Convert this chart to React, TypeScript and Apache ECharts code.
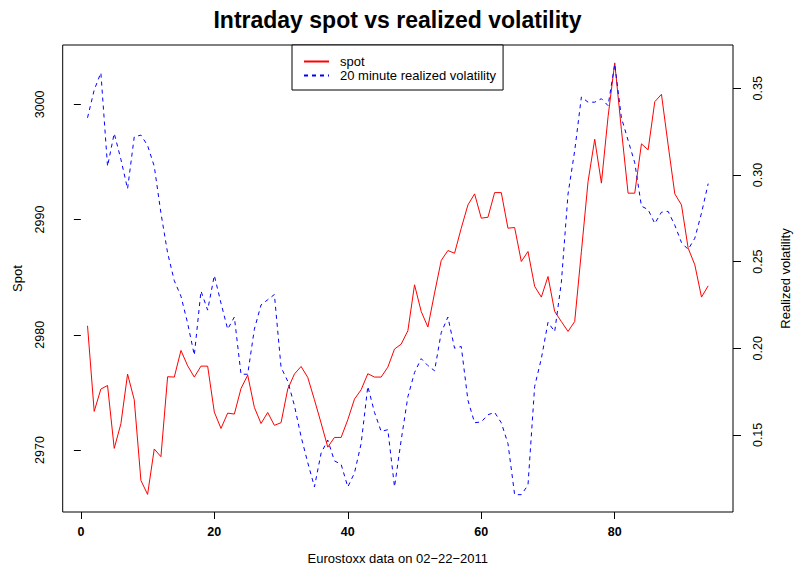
import { useEffect, useRef } from 'react';
import * as echarts from 'echarts';

const spot: number[] = [
  2980.78, 2973.35, 2975.29, 2975.6, 2970.14, 2972.28, 2976.59, 2974.36, 2967.36, 2966.15,
  2970.09, 2969.42, 2976.36, 2976.33, 2978.64, 2977.31, 2976.33, 2977.28, 2977.28, 2973.29,
  2971.87, 2973.2, 2973.12, 2975.34, 2976.5, 2973.7, 2972.3, 2973.26, 2972.14, 2972.37,
  2975.29, 2976.59, 2977.25, 2976.3, 2974.36, 2972.34, 2970.25, 2971.09, 2971.09, 2972.63,
  2974.42, 2975.23, 2976.62, 2976.33, 2976.33, 2977.19, 2978.76, 2979.19, 2980.35, 2984.34,
  2982.02, 2980.67, 2983.62, 2986.45, 2987.31, 2987.08, 2989.25, 2991.27, 2992.23, 2990.12,
  2990.2, 2992.34, 2992.34, 2989.25, 2989.31, 2986.36, 2987.23, 2984.2, 2983.27, 2985.06,
  2982.02, 2981.15, 2980.29, 2981.15, 2987.2, 2993.3, 2996.97, 2993.16, 2998.93, 3003.6,
  2997.8, 2992.29, 2992.29, 2996.57, 2996.05, 3000.23, 3000.87, 2996.48, 2992.23, 2991.27,
  2987.52, 2986.07, 2983.27, 2984.25,
];

const vol: number[] = [
  0.333, 0.349, 0.359, 0.305, 0.324, 0.309, 0.292, 0.322, 0.323, 0.317,
  0.305, 0.278, 0.255, 0.239, 0.23, 0.2145, 0.196, 0.233, 0.222, 0.242,
  0.226, 0.211, 0.218, 0.185, 0.185, 0.211, 0.225, 0.228, 0.231, 0.189,
  0.181, 0.167, 0.149, 0.134, 0.12, 0.1395, 0.147, 0.135, 0.133, 0.12,
  0.128, 0.145, 0.178, 0.163, 0.152, 0.153, 0.12, 0.147, 0.172, 0.186,
  0.194, 0.19, 0.187, 0.209, 0.218, 0.2, 0.201, 0.17, 0.157, 0.1575,
  0.1616, 0.163, 0.157, 0.145, 0.1155, 0.1155, 0.121, 0.178, 0.194, 0.215,
  0.2096, 0.238, 0.289, 0.314, 0.345, 0.342, 0.342, 0.344, 0.34, 0.364,
  0.333, 0.32, 0.307, 0.282, 0.28, 0.272, 0.2785, 0.279, 0.271, 0.261,
  0.257, 0.2635, 0.278, 0.295,
];

const minutes: number[] = spot.map((_, i) => i + 1);

const xTicks = [0, 20, 40, 60, 80];
const spotTicks = [2970, 2980, 2990, 3000];
const volTicks = [0.15, 0.2, 0.25, 0.3, 0.35];

const FONT = 'Liberation Sans, Arial, Helvetica, sans-serif';
const TICK_FS = 12.5;
const NAME_FS = 13;

export default function App() {
  const ref = useRef<HTMLDivElement>(null);
  useEffect(() => {
    if (!ref.current) return;
    const chart = echarts.init(ref.current, undefined, { renderer: 'svg' });
    const tickStyle = { color: '#000', width: 1 };
    chart.setOption({
      animation: false,
      backgroundColor: '#fff',
      textStyle: { fontFamily: FONT },
      title: {
        text: 'Intraday spot vs realized volatility',
        left: 'center',
        top: 3,
        textStyle: { fontFamily: FONT, fontSize: 23, fontWeight: 'bold', color: '#000' },
      },
      legend: {
        orient: 'vertical',
        left: 292,
        top: 45,
        itemWidth: 25,
        itemHeight: 13,
        itemGap: 1,
        padding: [10, 7, 8, 11],
        borderColor: '#000',
        borderWidth: 1,
        borderRadius: 0,
        backgroundColor: '#fff',
        itemStyle: { opacity: 0 },
        textStyle: {
          fontFamily: FONT,
          fontSize: NAME_FS,
          lineHeight: 13,
          color: '#000',
          padding: [0, 0, 0, 6],
        },
        data: ['spot', '20 minute realized volatility'],
      },
      grid: {
        left: 62.7,
        right: 62,
        top: 45,
        bottom: 55,
        show: true,
        borderColor: '#000',
        borderWidth: 1,
        containLabel: false,
        outerBoundsMode: 'none',
      },
      xAxis: {
        type: 'value',
        min: -2.72,
        max: 97.72,
        axisLine: { show: false },
        splitLine: { show: false },
        axisTick: { show: true, length: 7, customValues: xTicks, lineStyle: tickStyle },
        axisLabel: {
          customValues: xTicks,
          margin: 13,
          fontFamily: FONT,
          fontSize: TICK_FS,
          fontWeight: 'bold',
          color: '#000',
        },
        name: 'Eurostoxx data on 02\u221222\u22122011',
        nameLocation: 'middle',
        nameGap: 40,
        nameTextStyle: { fontFamily: FONT, fontSize: NAME_FS, color: '#000' },
      },
      yAxis: [
        {
          type: 'value',
          position: 'left',
          min: 2964.62,
          max: 3005.15,
          axisLine: { show: false },
          splitLine: { show: false },
          axisTick: { show: true, length: 7, customValues: spotTicks, lineStyle: tickStyle },
          axisLabel: {
            customValues: spotTicks,
            rotate: 90,
            margin: 16,
            fontFamily: FONT,
            fontSize: TICK_FS,
            color: '#000',
            formatter: (v: number) => String(v),
          },
          name: 'Spot',
          nameLocation: 'middle',
          nameRotate: 90,
          nameGap: 39,
          nameTextStyle: { fontFamily: FONT, fontSize: NAME_FS, color: '#000' },
        },
        {
          type: 'value',
          position: 'right',
          min: 0.1055,
          max: 0.375,
          axisLine: { show: false },
          splitLine: { show: false },
          axisTick: { show: true, length: 8, customValues: volTicks, lineStyle: tickStyle },
          axisLabel: {
            customValues: volTicks,
            rotate: 90,
            margin: 18,
            fontFamily: FONT,
            fontSize: TICK_FS,
            color: '#000',
            formatter: (v: number) => v.toFixed(2),
          },
          name: 'Realized volatility',
          nameLocation: 'middle',
          nameRotate: 90,
          nameGap: 46,
          nameTextStyle: { fontFamily: FONT, fontSize: NAME_FS, color: '#000' },
        },
      ],
      series: [
        {
          name: 'spot',
          type: 'line',
          yAxisIndex: 0,
          symbol: 'none',
          data: minutes.map((m, i) => [m, spot[i]]),
          lineStyle: { color: '#FF0000', width: 1 },
          itemStyle: { color: '#FF0000' },
        },
        {
          name: '20 minute realized volatility',
          type: 'line',
          yAxisIndex: 1,
          symbol: 'none',
          data: minutes.map((m, i) => [m, vol[i]]),
          lineStyle: { color: '#0000FF', width: 1, type: [4, 4] },
          itemStyle: { color: '#0000FF' },
        },
      ],
    });
    return () => chart.dispose();
  }, []);
  return (
    <div
      ref={ref}
      style={{ position: 'absolute', left: 0, top: 0, width: 795, height: 567 }}
    />
  );
}
